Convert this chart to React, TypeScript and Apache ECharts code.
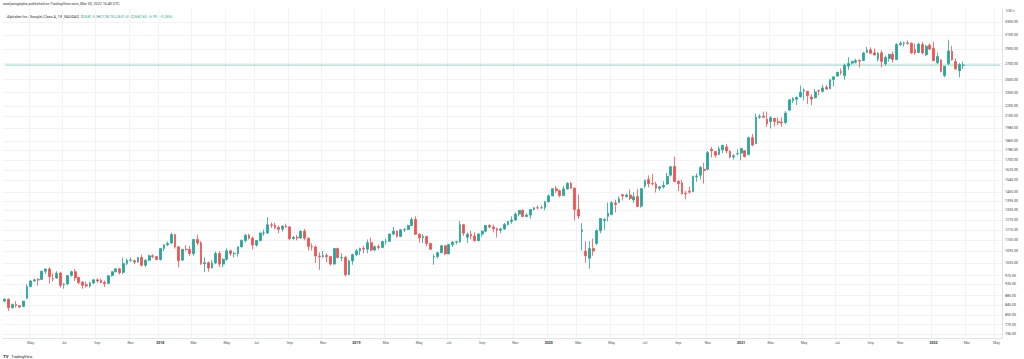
import React, { useEffect, useRef } from "react";
import * as echarts from "echarts";

// ---- axis setup ----
const startWeek = "2017-03-13";
const totalWeeks = 270; // includes empty future weeks on the right
const monthNames = ["Jan", "Feb", "Mar", "Apr", "May", "Jun", "Jul", "Aug", "Sep", "Oct", "Nov", "Dec"];
const yTickValues = [
  3300, 3100, 2900, 2700, 2500, 2350, 2200, 2100, 1980, 1860, 1780, 1700, 1620, 1540, 1455,
  1395, 1335, 1275, 1215, 1155, 1095, 1035, 975, 935, 885, 845, 805, 770, 736,
];
const yMin = 722;
const yMax = 3513;
const lastPrice = 2682.6;

// ---- weekly candles [open, close, low, high] ----
const ohlc2017 = [
  [862, 870, 858, 874], [870, 835, 822, 873], [835, 848, 832, 852], [848, 843, 836, 862],
  [843, 838, 834, 845], [840, 862, 838, 863], [874, 924, 872, 935], [925, 950, 921, 952],
  [951, 955, 945, 960], [957, 954, 929, 962], [957, 995, 955, 999], [995, 1006, 982, 1008],
  [1006, 970, 938, 1014], [960, 959, 947, 985], [963, 986, 960, 995], [987, 930, 920, 993],
  [933, 936, 915, 940], [937, 975, 930, 976], [976, 993, 970, 998], [993, 964, 950, 1006],
  [966, 943, 935, 967], [944, 930, 915, 950], [933, 927, 921, 948], [927, 941, 920, 946],
  [941, 955, 936, 958], [955, 950, 942, 961], [952, 943, 940, 960], [943, 938, 923, 952],
  [939, 974, 935, 975], [975, 993, 970, 995], [993, 1007, 990, 1009], [1007, 988, 980, 1012],
  [990, 1033, 982, 1063], [1033, 1049, 1025, 1058], [1049, 1050, 1042, 1063], [1047, 1040, 1030, 1053],
  [1040, 1063, 1038, 1065], [1063, 1025, 1017, 1078], [1025, 1049, 1015, 1056], [1049, 1072, 1045, 1078],
  [1072, 1068, 1060, 1080], [1068, 1053, 1050, 1072],
];
const ohlc2018 = [
  [1053, 1110, 1048, 1113], [1110, 1130, 1098, 1132], [1130, 1138, 1123, 1148], [1140, 1187, 1135, 1198],
  [1187, 1119, 1110, 1190], [1119, 1047, 1013, 1124], [1050, 1106, 1045, 1108], [1106, 1105, 1096, 1128],
  [1105, 1084, 1070, 1125], [1084, 1160, 1072, 1163], [1160, 1140, 1127, 1187], [1140, 1032, 1026, 1151],
  [1032, 1037, 991, 1065], [1037, 1011, 993, 1043], [1011, 1036, 1009, 1050], [1036, 1084, 1030, 1094],
  [1084, 1030, 1016, 1096], [1030, 1054, 1015, 1060], [1054, 1098, 1048, 1111], [1098, 1083, 1072, 1105],
  [1083, 1084, 1063, 1093], [1084, 1119, 1068, 1122], [1119, 1154, 1117, 1160], [1154, 1183, 1144, 1191],
  [1183, 1167, 1160, 1192], [1167, 1129, 1106, 1176], [1129, 1154, 1120, 1155], [1154, 1196, 1150, 1198],
  [1196, 1197, 1180, 1216], [1197, 1244, 1190, 1291], [1244, 1241, 1225, 1259], [1241, 1228, 1218, 1257],
  [1228, 1218, 1196, 1240], [1218, 1237, 1205, 1240], [1237, 1232, 1225, 1251], [1232, 1165, 1155, 1236],
  [1165, 1172, 1158, 1180], [1172, 1168, 1155, 1185], [1168, 1207, 1162, 1210], [1207, 1167, 1155, 1221],
  [1167, 1121, 1098, 1170], [1121, 1119, 1100, 1138], [1119, 1071, 1036, 1126], [1071, 1068, 1002, 1090],
  [1068, 1073, 1060, 1097], [1073, 1068, 1040, 1085], [1068, 1030, 1022, 1070], [1030, 1110, 1028, 1112],
  [1110, 1063, 1058, 1115], [1063, 1064, 1045, 1085], [1064, 979, 972, 1072], [979, 1046, 977, 1052],
  [1046, 1078, 1027, 1083],
];
const ohlc2019 = [
  [1078, 1098, 1070, 1107], [1098, 1110, 1075, 1115], [1110, 1107, 1085, 1125], [1107, 1142, 1085, 1160],
  [1142, 1102, 1096, 1170], [1102, 1120, 1095, 1127], [1120, 1116, 1105, 1132], [1116, 1148, 1112, 1152],
  [1148, 1150, 1130, 1165], [1150, 1190, 1145, 1193], [1190, 1207, 1185, 1232], [1207, 1177, 1170, 1210],
  [1177, 1215, 1175, 1218], [1215, 1217, 1202, 1225], [1217, 1240, 1213, 1245], [1240, 1277, 1236, 1289],
  [1277, 1189, 1185, 1296], [1189, 1169, 1142, 1195], [1169, 1176, 1140, 1190], [1176, 1138, 1122, 1180],
  [1138, 1106, 1105, 1140], [1066, 1068, 1027, 1080], [1068, 1088, 1060, 1094], [1088, 1125, 1086, 1130],
  [1125, 1082, 1076, 1128], [1082, 1132, 1080, 1135], [1132, 1145, 1118, 1150], [1145, 1147, 1133, 1152],
  [1147, 1245, 1140, 1268], [1245, 1195, 1180, 1250], [1172, 1189, 1140, 1200], [1189, 1179, 1160, 1210],
  [1179, 1153, 1148, 1200], [1153, 1190, 1150, 1195], [1190, 1207, 1175, 1212], [1207, 1240, 1200, 1244],
  [1240, 1231, 1225, 1247], [1231, 1221, 1200, 1245], [1221, 1212, 1170, 1227], [1212, 1219, 1195, 1226],
  [1219, 1246, 1215, 1255], [1246, 1265, 1240, 1268], [1265, 1273, 1250, 1296], [1273, 1310, 1270, 1320],
  [1310, 1334, 1295, 1337], [1334, 1295, 1290, 1340], [1295, 1304, 1290, 1316], [1304, 1340, 1280, 1342],
  [1340, 1350, 1333, 1355], [1350, 1349, 1340, 1366], [1350, 1351, 1345, 1365], [1351, 1390, 1335, 1396],
];
const ohlc2020 = [
  [1390, 1430, 1385, 1440], [1430, 1480, 1428, 1482], [1480, 1466, 1450, 1500], [1466, 1432, 1420, 1475],
  [1432, 1479, 1431, 1500], [1479, 1519, 1475, 1527], [1519, 1484, 1480, 1530], [1484, 1339, 1270, 1490],
  [1339, 1298, 1280, 1440], [1205, 1214, 1100, 1254], [1096, 1072, 1037, 1150], [1060, 1110, 1008, 1150],
  [1110, 1097, 1072, 1165], [1138, 1210, 1130, 1218], [1210, 1283, 1195, 1284], [1270, 1276, 1214, 1285],
  [1296, 1317, 1265, 1386], [1308, 1384, 1303, 1395], [1382, 1373, 1321, 1404], [1385, 1410, 1385, 1427],
  [1438, 1429, 1399, 1442], [1425, 1436, 1418, 1446], [1436, 1412, 1401, 1475], [1402, 1424, 1382, 1455],
  [1426, 1359, 1356, 1477], [1361, 1480, 1351, 1485], [1500, 1541, 1485, 1546], [1547, 1516, 1490, 1578],
  [1517, 1515, 1504, 1590], [1513, 1483, 1454, 1530], [1483, 1494, 1466, 1500], [1493, 1505, 1480, 1536],
  [1514, 1571, 1508, 1597], [1580, 1645, 1570, 1650], [1647, 1532, 1530, 1727], [1532, 1517, 1464, 1545],
  [1522, 1444, 1441, 1546], [1448, 1444, 1406, 1464], [1463, 1456, 1447, 1496], [1460, 1572, 1456, 1575],
  [1568, 1573, 1529, 1595], [1580, 1639, 1548, 1651], [1626, 1616, 1517, 1677], [1626, 1761, 1616, 1775],
  [1789, 1777, 1720, 1809], [1770, 1739, 1719, 1775], [1745, 1793, 1743, 1814], [1785, 1824, 1755, 1828],
  [1810, 1775, 1757, 1833], [1771, 1722, 1714, 1780], [1724, 1734, 1703, 1747], [1751, 1752, 1737, 1790],
];
const ohlc2021 = [
  [1757, 1795, 1697, 1800], [1777, 1727, 1720, 1784], [1744, 1892, 1740, 1900], [1892, 1827, 1816, 1926],
  [1839, 2088, 1834, 2124], [2088, 2095, 2071, 2118], [2098, 2088, 2080, 2145], [2068, 2022, 1995, 2145],
  [2045, 2083, 1977, 2100], [2075, 2045, 1996, 2080], [2043, 2035, 2010, 2085], [2040, 2032, 1994, 2085],
  [2035, 2130, 2020, 2150], [2160, 2270, 2160, 2276], [2262, 2283, 2233, 2300], [2276, 2298, 2213, 2303],
  [2304, 2353, 2293, 2431], [2369, 2380, 2265, 2398], [2365, 2317, 2223, 2366], [2300, 2278, 2210, 2333],
  [2292, 2357, 2285, 2390], [2370, 2368, 2321, 2385], [2364, 2404, 2352, 2441], [2410, 2390, 2382, 2438],
  [2394, 2499, 2389, 2508], [2502, 2535, 2420, 2537], [2545, 2591, 2538, 2598], [2600, 2588, 2557, 2640],
  [2550, 2679, 2500, 2701], [2670, 2704, 2620, 2786], [2708, 2728, 2687, 2740], [2720, 2741, 2704, 2766],
  [2745, 2734, 2650, 2755], [2742, 2842, 2740, 2860], [2853, 2884, 2842, 2925], [2887, 2838, 2833, 2920],
  [2845, 2816, 2810, 2905], [2760, 2838, 2730, 2855], [2845, 2730, 2653, 2880], [2700, 2783, 2675, 2810],
  [2770, 2825, 2726, 2832], [2826, 2756, 2713, 2864], [2754, 2960, 2749, 2980], [2960, 2977, 2942, 3007],
  [2978, 2985, 2932, 3000], [2985, 2980, 2960, 3019], [2980, 2844, 2833, 2990], [2890, 2843, 2820, 2975],
  [2850, 2967, 2842, 2985], [2960, 2844, 2823, 3000], [2820, 2938, 2800, 2956], [2950, 2897, 2887, 2977],
];
const ohlc2022 = [
  [2909, 2740, 2738, 3002], [2712, 2795, 2700, 2850], [2750, 2601, 2590, 2757], [2551, 2667, 2528, 2671],
  [2700, 2871, 2681, 3030], [2866, 2751, 2740, 2942], [2727, 2631, 2628, 2769], [2610, 2689.59, 2528, 2710],
  [2681.5, 2682.6, 2631.65, 2728.75],
];

const FONT = "Roboto, 'Liberation Sans', sans-serif";
const UP = "#26a69a";
const DOWN = "#ef5350";
const GRID = "#f2f3f7";
const PRICE_LINE = "#8fd3cb";

function buildWeeks(): string[] {
  const out: string[] = [];
  const d0 = new Date(startWeek + "T00:00:00Z").getTime();
  for (let i = 0; i < totalWeeks; i++) {
    out.push(new Date(d0 + i * 7 * 86400000).toISOString().slice(0, 10));
  }
  return out;
}

export default function App() {
  const ref = useRef<HTMLDivElement>(null);

  useEffect(() => {
    if (!ref.current) return;
    const chart = echarts.init(ref.current, undefined, { renderer: "svg" });
    const weeks = buildWeeks();
    const candles = [...ohlc2017, ...ohlc2018, ...ohlc2019, ...ohlc2020, ...ohlc2021, ...ohlc2022];

    const isMonthStart = (i: number) => {
      if (i <= 0 || i >= weeks.length) return false;
      const m = +weeks[i].slice(5, 7);
      const pm = +weeks[i - 1].slice(5, 7);
      return m !== pm && m % 2 === 1;
    };

    const option: any = {
      animation: false,
      backgroundColor: "#ffffff",
      textStyle: { fontFamily: FONT },
      grid: { left: 3, right: 22, top: 9, bottom: 21, containLabel: false },
      xAxis: {
        type: "category",
        data: weeks,
        boundaryGap: true,
        axisLine: { show: true, lineStyle: { color: "#e0e3eb", width: 1 } },
        axisTick: { show: false },
        axisLabel: {
          interval: (index: number) => isMonthStart(index),
          formatter: (value: string) => {
            const m = +value.slice(5, 7);
            return m === 1 ? `{y|${value.slice(0, 4)}}` : monthNames[m - 1];
          },
          fontSize: 3.6,
          color: "#555",
          margin: 3,
          fontFamily: FONT,
          rich: { y: { fontSize: 3.6, fontWeight: "bold", color: "#333", fontFamily: FONT } },
        },
        splitLine: {
          show: true,
          interval: (index: number) => isMonthStart(index),
          lineStyle: { color: GRID, width: 1 },
        },
      },
      yAxis: {
        type: "log",
        position: "right",
        min: yMin,
        max: yMax,
        axisLine: { show: true, lineStyle: { color: "#e0e3eb", width: 1 } },
        axisTick: { show: false },
        axisLabel: { show: false },
        splitLine: { show: false },
      },
      series: [
        {
          type: "line",
          name: "price line",
          data: weeks.map(() => lastPrice),
          showSymbol: false,
          silent: true,
          z: 1,
          color: PRICE_LINE,
          lineStyle: { color: PRICE_LINE, width: 1, type: "solid" },
        },
        {
          type: "candlestick",
          data: candles,
          barWidth: "62%",
          z: 3,
          itemStyle: {
            color: UP,
            color0: DOWN,
            borderColor: UP,
            borderColor0: DOWN,
            borderWidth: 0.8,
          },
          markLine: {
            silent: true,
            z: 0,
            symbol: ["none", "none"],
            animation: false,
            data: yTickValues.map((v) => ({
              yAxis: v,
              lineStyle: { color: GRID, width: 1, type: "solid" },
              label: {
                show: true,
                position: "end",
                distance: 3,
                formatter: v.toFixed(2),
                fontSize: 3.6,
                color: "#444",
                fontFamily: FONT,
              },
            })),
          },
        },
      ],
      graphic: [
        {
          type: "text",
          left: 3,
          top: 2,
          style: {
            text: "analysingalpha published on TradingView.com, Mar 03, 2022 16:40 UTC",
            fontSize: 3.7,
            fill: "#333",
            fontFamily: FONT,
          },
        },
        {
          type: "text",
          left: 7,
          top: 15,
          style: {
            text:
              "{a|Alphabet Inc (Google) Class A, 1W, NASDAQ}  {k|O}{v|2681.50} {k|H}{v|2728.75} {k|L}{v|2631.65} {k|C}{v|2682.60} {v|\u22126.99 (\u22120.26%)}",
            fontSize: 3.7,
            fontFamily: FONT,
            rich: {
              a: { fontSize: 3.7, fill: "#333", fontFamily: FONT },
              k: { fontSize: 3.7, fill: "#555", fontFamily: FONT },
              v: { fontSize: 3.7, fill: UP, fontFamily: FONT },
            },
          },
        },
        {
          type: "text",
          left: 1006,
          top: 9,
          style: { text: "USD \u25BE", fontSize: 3.3, fill: "#555", fontFamily: FONT },
        },
        {
          type: "text",
          left: 3,
          top: 350,
          style: {
            text: "{t|TV} {n|TradingView}",
            fontFamily: FONT,
            rich: {
              t: { fontSize: 4.2, fontWeight: "bold", fill: "#131722", fontFamily: FONT },
              n: { fontSize: 3.8, fill: "#131722", fontFamily: FONT },
            },
          },
        },
      ],
    };

    chart.setOption(option);
    return () => chart.dispose();
  }, []);

  return (
    <div
      ref={ref}
      style={{ position: "fixed", left: 0, top: 0, width: 1024, height: 359, background: "#fff" }}
    />
  );
}
